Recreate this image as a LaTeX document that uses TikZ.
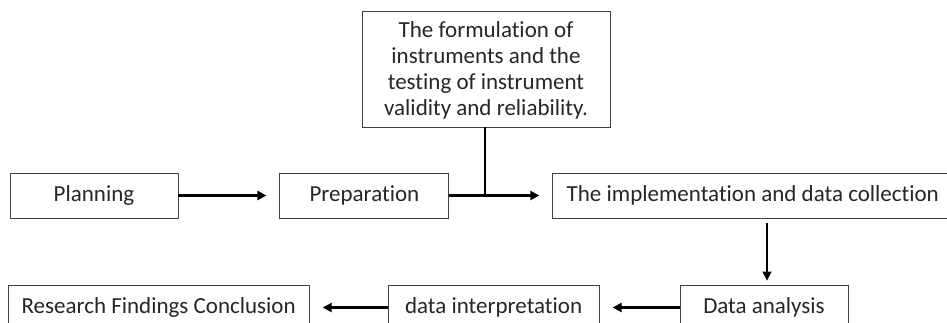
\documentclass[tikz,border=0pt]{standalone}
\usepackage{fontspec}
\setmainfont{Carlito}[Ligatures=NoCommon]
\usepackage{tikz}
\usetikzlibrary{arrows.meta,positioning}

\begin{document}
\begin{tikzpicture}[x=1pt,y=-1pt,->,>={Triangle[length=9pt,width=9pt]},
  shorten >=13pt,line width=2.2pt,node distance=101pt,
  stepbox/.style={rectangle,draw=black!75,line width=0.9pt,minimum height=45pt,
    inner sep=0pt,text=black!85,font=\fontsize{23}{26}\selectfont}]

  \clip (0,0) rectangle (947,322);

  \node[stepbox,minimum width=168pt] (plan) at (94,195.5) {Planning};
  \node[stepbox,minimum width=169pt] (prep) [right=101pt of plan] {Preparation};
  \node[stepbox,minimum width=400pt] (impl) [right=103pt of prep] {The implementation and data collection};
  \node[stepbox,minimum width=248pt,minimum height=116pt,align=center,text depth=-6pt] (instr) at (486,69)
    {The formulation of\\instruments and the\\testing of instrument\\validity and reliability.};

  \node[stepbox,minimum width=168pt] (anal) at (764,307.5) {Data analysis};
  \node[stepbox,minimum width=211pt] (interp) [left=80pt of anal] {data interpretation};
  \node[stepbox,minimum width=301pt] (concl) [left=78pt of interp] {Research Findings Conclusion};

  \path
      (plan) edge (prep)
      (prep) edge (impl)
      (anal) edge (interp)
      (interp) edge (concl);

  \draw[-,shorten >=0pt] (instr.south -| 485,0) -- (485,195.5);
  \draw[line width=1.3pt,shorten <=5pt,shorten >=4pt] (impl.south -| 767,0) -- (anal.north -| 767,0);
\end{tikzpicture}
\end{document}
